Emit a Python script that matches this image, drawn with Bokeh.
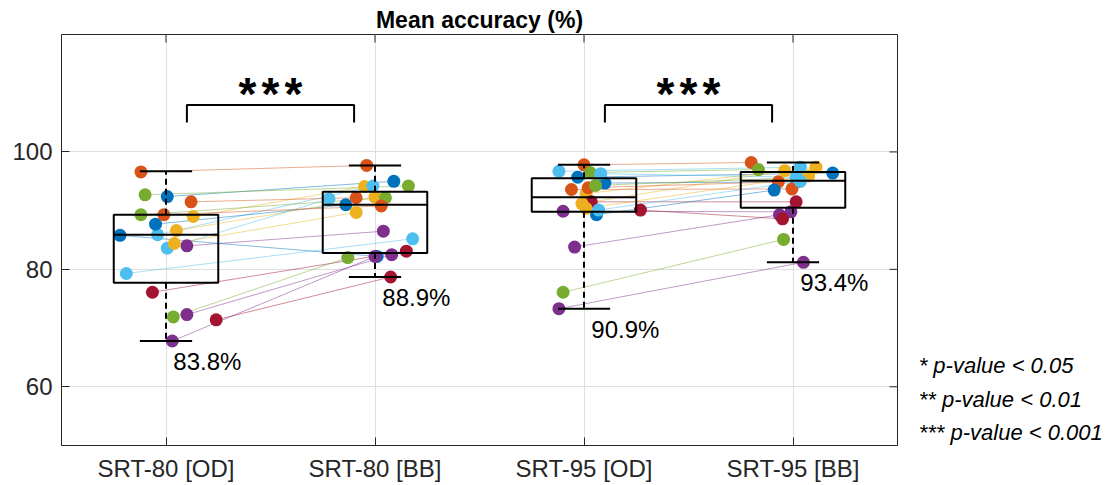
from bokeh.plotting import figure
from bokeh.models import Range1d, FixedTicker
from bokeh.layouts import row
from bokeh.embed import file_html
from bokeh.resources import INLINE
from bokeh.core.properties import value

# ---------------- data ----------------
CATEGORIES = ["SRT-80 [OD]", "SRT-80 [BB]", "SRT-95 [OD]", "SRT-95 [BB]"]
TITLE = "Mean accuracy (%)"
Y_TICKS = [60, 80, 100]
SUBJECT_COLORS = ["#0072BD", "#D95319", "#EDB120", "#7E2F8E", "#77AC30", "#4DBEEE", "#A2142F"]

# per-subject accuracy (%), subject i drawn with colour i % 7
SRT80_OD = [92.4, 96.6, 89.0, 84.0, 92.7, 85.9, 76.1,
            87.7, 91.5, 86.6, 72.3, 89.3, 83.6, 71.4,
            85.8, 89.3, 84.4, 67.8, 71.9, 79.3]
SRT80_BB = [95.0, 97.7, 94.1, 86.5, 94.2, 94.2, 83.1,
            91.0, 92.2, 92.3, 82.5, 92.2, 92.0, 78.7,
            82.2, 90.8, 89.7, 82.2, 82.0, 85.2]
SRT95_OD = [95.7, 97.8, 92.9, 89.9, 96.5, 96.7, 91.5,
            94.7, 93.9, 91.2, 83.8, 94.3, 96.3, 90.1,
            89.3, 93.6, 90.4, 73.3, 76.1, 90.1]
SRT95_BB = [96.4, 98.2, 97.4, 89.8, 97.0, 97.4, 91.5,
            94.9, 94.9, 96.8, 89.3, 95.6, 95.7, 88.6,
            93.5, 93.7, 95.9, 81.2, 85.1, 95.0]

# horizontal scatter jitter (category units)
JIT_80_OD = [0.006, -0.12, 0.13, 0.10, -0.10, -0.04, -0.065,
             -0.05, 0.12, 0.05, 0.10, -0.12, 0.006, 0.24,
             -0.22, -0.01, 0.04, 0.03, 0.035, -0.19]
JIT_80_BB = [0.09, -0.04, -0.05, 0.04, 0.16, -0.01, 0.15,
             -0.14, -0.09, 0.0, 0.08, 0.05, -0.22, 0.075,
             0.01, 0.03, -0.09, 0.0, -0.13, 0.18]
JIT_95_OD = [-0.03, 0.0, 0.01, -0.10, 0.03, -0.12, 0.035,
             0.10, 0.02, -0.01, -0.045, 0.055, 0.08, 0.27,
             0.06, -0.06, 0.01, -0.12, -0.10, 0.07]
JIT_95_BB = [0.19, -0.20, 0.11, -0.01, -0.165, 0.035, 0.015,
             0.02, -0.07, -0.04, -0.065, 0.02, 0.015, -0.05,
             -0.09, -0.005, 0.075, 0.05, -0.045, 0.035]

# box-plot statistics per category
BOX_Q1 = [77.7, 82.8, 89.8, 90.5]
BOX_MED = [85.9, 91.0, 92.3, 95.1]
BOX_Q3 = [89.3, 93.2, 95.5, 96.6]
WHISK_LO = [67.8, 78.7, 73.3, 81.2]
WHISK_HI = [96.7, 97.7, 97.8, 98.2]
MEANS = [83.8, 88.9, 90.9, 93.4]

# significance comparisons (category index pairs, 1-based)
COMPARISONS = [(1, 2), (3, 4)]
COMPARISON_STARS = ["***", "***"]
SIG_NOTES = ["* p-value < 0.05", "** p-value < 0.01", "*** p-value < 0.001"]

# ---------------- figure ----------------
FONT = "Liberation Sans"
AX_COLOR = "#262626"
X0, X1, Y0, Y1 = 0.5, 4.5, 50, 120
FRAME_W, FRAME_H = 836, 411
TICK_LEN = 8

p = figure(width=900, height=485, x_range=Range1d(X0, X1), y_range=Range1d(Y0, Y1),
           output_backend="svg", toolbar_location=None,
           min_border_left=61, min_border_right=3, min_border_top=34, min_border_bottom=40)
p.background_fill_color = "white"
p.border_fill_color = "white"
p.outline_line_color = AX_COLOR
p.outline_line_width = 1

p.title.text = TITLE
p.title.align = "center"
p.title.text_font = FONT
p.title.text_font_style = "bold"
p.title.text_font_size = "23px"
p.title.text_color = "black"
p.title.standoff = 3

xt = FixedTicker(ticks=[1, 2, 3, 4])
yt = FixedTicker(ticks=Y_TICKS)
p.xaxis.ticker = xt
p.yaxis.ticker = yt
p.xgrid.ticker = xt
p.ygrid.ticker = yt
p.xaxis.major_label_overrides = {i + 1: c for i, c in enumerate(CATEGORIES)}
for ax in (p.xaxis, p.yaxis):
    ax.major_label_text_font = FONT
    ax.major_label_text_font_size = "24px"
    ax.major_label_text_color = AX_COLOR
    ax.major_tick_in = TICK_LEN
    ax.major_tick_out = 0
    ax.minor_tick_line_color = None
    ax.axis_line_color = AX_COLOR
    ax.major_tick_line_color = AX_COLOR
    ax.major_label_standoff = 9
for g in (p.xgrid, p.ygrid):
    g.grid_line_color = "#dfdfdf"
    g.grid_line_width = 1

# mirrored inward ticks on the right and top frame edges
dx = TICK_LEN * (X1 - X0) / FRAME_W
dy = TICK_LEN * (Y1 - Y0) / FRAME_H
p.segment(x0=[X1] * len(Y_TICKS), y0=Y_TICKS, x1=[X1 - dx] * len(Y_TICKS), y1=Y_TICKS,
          line_color=AX_COLOR, line_width=1)
p.segment(x0=[1, 2, 3, 4], y0=[Y1] * 4, x1=[1, 2, 3, 4], y1=[Y1 - dy] * 4,
          line_color=AX_COLOR, line_width=1)

n = len(SRT80_OD)
cols = [SUBJECT_COLORS[i % len(SUBJECT_COLORS)] for i in range(n)]
conds = [(SRT80_OD, JIT_80_OD), (SRT80_BB, JIT_80_BB), (SRT95_OD, JIT_95_OD), (SRT95_BB, JIT_95_BB)]
xs = [[k + 1 + j for j in jit] for k, (vals, jit) in enumerate(conds)]

# paired lines
for a_idx, b_idx in COMPARISONS:
    a, b = a_idx - 1, b_idx - 1
    p.segment(x0=xs[a], y0=conds[a][0], x1=xs[b], y1=conds[b][0],
              line_color=cols, line_width=0.7, line_alpha=0.7)

# points
for k, (vals, jit) in enumerate(conds):
    p.scatter(x=xs[k], y=vals, size=13, fill_color=cols, line_color=None, marker="circle")

# box plots
cat = [1, 2, 3, 4]
p.segment(x0=cat, y0=BOX_Q3, x1=cat, y1=WHISK_HI, line_color="black", line_width=2, line_dash="6 4")
p.segment(x0=cat, y0=BOX_Q1, x1=cat, y1=WHISK_LO, line_color="black", line_width=2, line_dash="6 4")
p.segment(x0=[c - 0.125 for c in cat], y0=WHISK_HI, x1=[c + 0.125 for c in cat], y1=WHISK_HI,
          line_color="black", line_width=2)
p.segment(x0=[c - 0.125 for c in cat], y0=WHISK_LO, x1=[c + 0.125 for c in cat], y1=WHISK_LO,
          line_color="black", line_width=2)
p.quad(left=[c - 0.25 for c in cat], right=[c + 0.25 for c in cat], bottom=BOX_Q1, top=BOX_Q3,
       fill_color=None, line_color="black", line_width=2)
p.segment(x0=[c - 0.25 for c in cat], y0=BOX_MED, x1=[c + 0.25 for c in cat], y1=BOX_MED,
          line_color="black", line_width=2)

# mean labels
p.text(x=[c + 0.035 for c in cat], y=[w - 3.5 for w in WHISK_LO],
       text=[f"{m:.1f}%" for m in MEANS], text_font=value(FONT), text_font_size="24px",
       text_align="left", text_baseline="middle", text_color="black")

# significance brackets
BR_TOP, BR_LEG = 108.0, 105.0
for (a_idx, b_idx), stars in zip(COMPARISONS, COMPARISON_STARS):
    x0, x1 = a_idx + 0.1, b_idx - 0.1
    p.line(x=[x0, x0, x1, x1], y=[BR_LEG, BR_TOP, BR_TOP, BR_LEG], line_color="black", line_width=2)
    mid = (a_idx + b_idx) / 2
    ns = len(stars)
    sx = [mid + (i - (ns - 1) / 2) * 0.11 for i in range(ns)]
    p.text(x=sx, y=[109.8] * ns, text=list(stars), text_font=value(FONT), text_font_style="bold",
           text_font_size="46px", text_align="center", text_baseline="alphabetic", text_color="black")

# side panel with the significance notes (shares the y scale of the main axes)
p2 = figure(width=214, height=485, x_range=Range1d(0, 1), y_range=p.y_range,
            output_backend="svg", toolbar_location=None, x_axis_type=None, y_axis_type=None,
            min_border_left=0, min_border_right=0, min_border_top=34, min_border_bottom=40)
p2.outline_line_color = None
p2.xgrid.visible = False
p2.ygrid.visible = False
p2.background_fill_color = "white"
p2.border_fill_color = "white"
p2.text(x=[0.085] * len(SIG_NOTES), y=[63.6 - i * 5.7 for i in range(len(SIG_NOTES))],
        text=SIG_NOTES, text_font=value(FONT), text_font_style="italic", text_font_size="22px",
        text_align="left", text_baseline="middle", text_color="black")

layout = row(p, p2, spacing=0)
open("out.html", "w").write(file_html(layout, INLINE))
